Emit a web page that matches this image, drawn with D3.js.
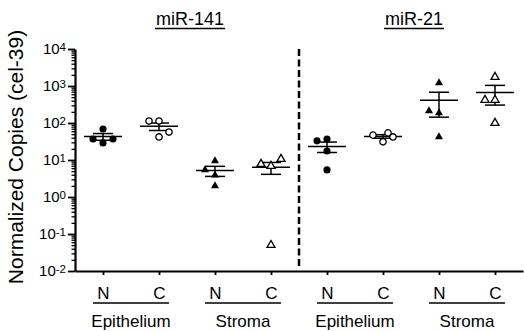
<!DOCTYPE html>
<html>
<head>
<meta charset="utf-8">
<script src="https://cdn.jsdelivr.net/npm/d3@7"></script>
<style>
body { margin: 0; background: #fff; }
text { font-family: Arial, "Liberation Sans", sans-serif; fill: #000; }
.axis path, .axis line { stroke: #000; }
</style>
</head>
<body>
<div id="chart-area"></div>
<script>
var mirnas = ["miR-141", "miR-21"];
var tissues = ["Epithelium", "Stroma"];
var conditions = ["N", "C"];

// normalized copies per sample
var mir141EpiN = [69, 37, 29, 37];
var mir141EpiC = [113, 113, 57, 42];
var mir141StrN = [9.4, 5.4, 3.9, 2.0];
var mir141StrC = [7.8, 6.9, 10.6, 0.05];
var mir21EpiN = [33, 37, 17.5, 5.4];
var mir21EpiC = [47, 31, 54, 42];
var mir21StrN = [1205, 211, 186, 42];
var mir21StrC = [1750, 419, 419, 100];

// scatter slot of each sample (left / centre / right)
var spread = [
    [0, -1, 0, 1],
    [-1, 0, 1, 0],
    [0, -1, 0, 0],
    [-1, 0, 1, 0],
    [-1, 0, 0, 0],
    [-1, 0, 0.5, 1],
    [0, -1, 0, 0],
    [0, -1, 0, 0]
];

var yExponents = [-2, -1, 0, 1, 2, 3, 4];

var allValues = [mir141EpiN, mir141EpiC, mir141StrN, mir141StrC,
                 mir21EpiN, mir21EpiC, mir21StrN, mir21StrC];

var groups = [];
var k = 0;
mirnas.forEach(function(m){
    tissues.forEach(function(t){
        conditions.forEach(function(c){
            var vals = allValues[k];
            var mean = d3.mean(vals);
            var sem = d3.deviation(vals) / Math.sqrt(vals.length);
            groups.push({ key: m + "|" + t + "|" + c, mirna: m, tissue: t, cond: c,
                          values: vals, slots: spread[k], mean: mean, sem: sem });
            k++;
        });
    });
});

var margin = { left: 75, right: 1, top: 49, bottom: 60 };
var width = 524 - margin.left - margin.right,
    height = 331 - margin.top - margin.bottom;

var svg = d3.select("#chart-area")
    .append("svg")
        .attr("width", 524)
        .attr("height", 331);

var g = svg.append("g")
    .attr("transform", "translate(" + margin.left + ", " + margin.top + ")");

var x = d3.scalePoint()
    .domain(groups.map(function(d){ return d.key; }))
    .range([0, width])
    .padding(0.5);

var y = d3.scaleLog()
    .domain([1e-2, 1e4])
    .range([height, 0]);

// minor log ticks
var minorTicks = [];
yExponents.slice(0, -1).forEach(function(p){
    for (var i = 2; i <= 9; i++) minorTicks.push(i * Math.pow(10, p));
});

var yMinor = g.append("g")
    .attr("class", "y axis minor")
    .call(d3.axisLeft(y).tickValues(minorTicks).tickSize(3.5).tickSizeOuter(0).tickFormat(""));
yMinor.select(".domain").remove();
yMinor.selectAll("line").attr("stroke-width", 1.3);

var yAxis = g.append("g")
    .attr("class", "y axis")
    .call(d3.axisLeft(y)
        .tickValues(yExponents.map(function(p){ return Math.pow(10, p); }))
        .tickSize(7)
        .tickSizeOuter(0)
        .tickPadding(2)
        .tickFormat(""));
yAxis.select(".domain").attr("stroke-width", 2.2);
yAxis.selectAll("line").attr("stroke-width", 1.8);
yAxis.selectAll(".tick text")
    .attr("font-size", "15px")
    .each(function(d){
        var t = d3.select(this);
        t.append("tspan").text("10");
        t.append("tspan")
            .attr("dy", "-3.5")
            .attr("font-size", "11.5px")
            .text(Math.round(Math.log10(d)));
    });

var xAxis = g.append("g")
    .attr("class", "x axis")
    .attr("transform", "translate(0, " + height + ")")
    .call(d3.axisBottom(x)
        .tickSize(4)
        .tickSizeOuter(0)
        .tickPadding(12)
        .tickFormat(function(key){ return key.split("|")[2]; }));
xAxis.select(".domain").attr("stroke-width", 2.2);
xAxis.selectAll("line").attr("stroke-width", 1.8);
xAxis.selectAll("text").attr("font-size", "17px");

// tissue labels under each N/C pair
mirnas.forEach(function(m){
    tissues.forEach(function(t){
        var cx = (x(m + "|" + t + "|N") + x(m + "|" + t + "|C")) / 2;
        g.append("line")
            .attr("x1", cx - 38).attr("x2", cx + 38)
            .attr("y1", height + 32).attr("y2", height + 32)
            .attr("stroke", "#000")
            .attr("stroke-width", 1.5);
        g.append("text")
            .attr("x", cx)
            .attr("y", height + 56)
            .attr("font-size", "17px")
            .attr("text-anchor", "middle")
            .text(t);
    });

    // miRNA title, underlined
    var keys = groups.filter(function(d){ return d.mirna == m; });
    var tx = d3.mean(keys, function(d){ return x(d.key); }) + 3;
    var title = g.append("text")
        .attr("x", tx)
        .attr("y", -24)
        .attr("font-size", "18px")
        .attr("text-anchor", "middle")
        .text(m);
    var tw = title.node().getComputedTextLength();
    g.append("line")
        .attr("x1", tx - tw / 2 - 1).attr("x2", tx + tw / 2 + 1)
        .attr("y1", -20.5).attr("y2", -20.5)
        .attr("stroke", "#000")
        .attr("stroke-width", 1.3);
});

// dashed separator between the two miRNAs
var sepX = (x(groups[3].key) + x(groups[4].key)) / 2;
g.append("line")
    .attr("x1", sepX).attr("x2", sepX)
    .attr("y1", 0).attr("y2", height - 2)
    .attr("stroke", "#000")
    .attr("stroke-width", 2.5)
    .attr("stroke-dasharray", "7,3.5");

svg.append("text")
    .attr("transform", "translate(23, 157) rotate(-90)")
    .attr("font-size", "21px")
    .attr("text-anchor", "middle")
    .text("Normalized Copies (cel-39)");

// mean +/- SEM
var bars = g.selectAll(".errbar")
    .data(groups)
    .enter()
    .append("g")
    .attr("class", "errbar")
    .attr("stroke", "#000")
    .attr("stroke-width", 1.5);

bars.append("line")
    .attr("x1", function(d){ return x(d.key) - 19; })
    .attr("x2", function(d){ return x(d.key) + 19; })
    .attr("y1", function(d){ return y(d.mean); })
    .attr("y2", function(d){ return y(d.mean); });
bars.append("line")
    .attr("x1", function(d){ return x(d.key); })
    .attr("x2", function(d){ return x(d.key); })
    .attr("y1", function(d){ return y(d.mean - d.sem); })
    .attr("y2", function(d){ return y(d.mean + d.sem); });
bars.append("line")
    .attr("x1", function(d){ return x(d.key) - 10; })
    .attr("x2", function(d){ return x(d.key) + 10; })
    .attr("y1", function(d){ return y(d.mean + d.sem); })
    .attr("y2", function(d){ return y(d.mean + d.sem); });
bars.append("line")
    .attr("x1", function(d){ return x(d.key) - 10; })
    .attr("x2", function(d){ return x(d.key) + 10; })
    .attr("y1", function(d){ return y(d.mean - d.sem); })
    .attr("y2", function(d){ return y(d.mean - d.sem); });

// individual samples
var points = [];
groups.forEach(function(d){
    d.values.forEach(function(v, i){
        points.push({ key: d.key, tissue: d.tissue, cond: d.cond, value: v, slot: d.slots[i] });
    });
});

var circle = d3.symbol().type(d3.symbolCircle).size(40);
var openCircle = d3.symbol().type(d3.symbolCircle).size(32);
var triangle = d3.symbol().type(d3.symbolTriangle).size(28);

g.selectAll(".pt")
    .data(points)
    .enter()
    .append("path")
    .attr("class", "pt")
    .attr("transform", function(d){
        return "translate(" + (x(d.key) + d.slot * 10) + "," + y(d.value) + ")";
    })
    .attr("d", function(d){
        if (d.tissue == "Stroma") return triangle();
        return d.cond == "N" ? circle() : openCircle();
    })
    .attr("fill", function(d){ return d.cond == "N" ? "#000" : "#fff"; })
    .attr("stroke", "#000")
    .attr("stroke-width", function(d){ return d.cond == "N" ? 0 : 1.3; });
</script>
</body>
</html>
